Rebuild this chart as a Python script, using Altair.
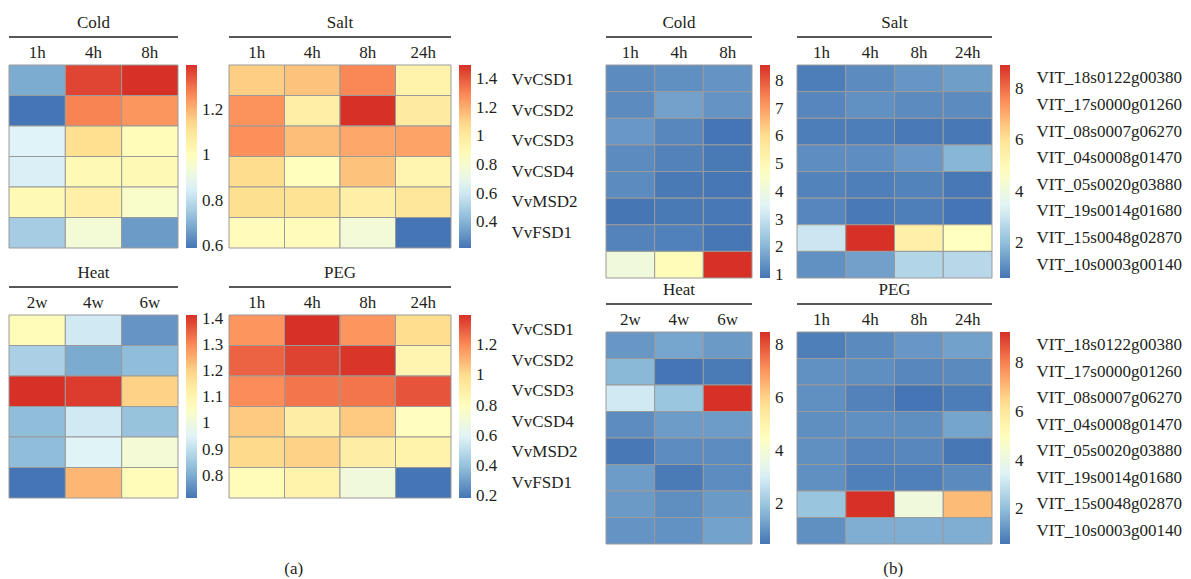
import altair as alt
import pandas as pd
import numpy as np

FONT = "Liberation Serif"
FS = 17
TXT = "#231f20"
PALETTE = ["#4575B4", "#91BFDB", "#E0F3F8", "#FFFFBF", "#FEE090", "#FC8D59", "#D73027"]

genes_a = ["VvCSD1", "VvCSD2", "VvCSD3", "VvCSD4", "VvMSD2", "VvFSD1"]
genes_b = ["VIT_18s0122g00380", "VIT_17s0000g01260", "VIT_08s0007g06270", "VIT_04s0008g01470",
           "VIT_05s0020g03880", "VIT_19s0014g01680", "VIT_15s0048g02870", "VIT_10s0003g00140"]
hours3 = ["1h", "4h", "8h"]
hours4 = ["1h", "4h", "8h", "24h"]
weeks = ["2w", "4w", "6w"]

# (a) relative expression, rows = genes_a
cold_a = [[0.69, 1.37, 1.40],
          [0.59, 1.28, 1.25],
          [0.86, 1.13, 1.01],
          [0.85, 1.02, 1.02],
          [1.02, 1.06, 0.97],
          [0.76, 0.94, 0.66]]
salt_a = [[1.12, 1.15, 1.30, 0.95],
          [1.27, 0.97, 1.50, 1.00],
          [1.28, 1.16, 1.22, 1.23],
          [1.08, 0.87, 1.15, 0.93],
          [1.07, 1.05, 0.97, 1.03],
          [0.88, 0.88, 0.77, 0.22]]
heat_a = [[1.08, 0.925, 0.765],
          [0.87, 0.80, 0.83],
          [1.415, 1.40, 1.20],
          [0.83, 0.925, 0.84],
          [0.83, 0.95, 1.02],
          [0.715, 1.24, 1.08]]
peg_a = [[1.18, 1.40, 1.18, 1.00],
         [1.29, 1.36, 1.39, 0.86],
         [1.20, 1.25, 1.25, 1.32],
         [1.05, 0.91, 1.05, 0.80],
         [1.01, 1.03, 0.91, 0.88],
         [0.82, 0.88, 0.70, 0.19]]

# (b) rows = genes_b
cold_b = [[1.27, 1.35, 1.43],
          [1.27, 1.66, 1.43],
          [1.50, 1.20, 0.89],
          [1.27, 1.12, 0.97],
          [1.27, 0.97, 0.93],
          [0.90, 0.97, 0.95],
          [1.14, 1.10, 0.92],
          [4.10, 4.90, 8.58]]
salt_b = [[0.80, 1.05, 1.25, 1.40],
          [0.95, 1.15, 1.05, 1.05],
          [0.80, 0.80, 0.72, 0.70],
          [1.10, 1.10, 1.30, 1.85],
          [0.90, 0.82, 0.90, 0.70],
          [0.95, 0.72, 0.82, 0.64],
          [3.05, 8.94, 5.45, 4.80],
          [1.15, 1.45, 2.60, 2.70]]
heat_b = [[1.10, 1.35, 1.15],
          [1.70, 0.49, 0.60],
          [2.90, 2.00, 8.49],
          [0.90, 1.20, 1.20],
          [0.55, 0.90, 0.90],
          [1.20, 0.60, 0.90],
          [1.15, 0.95, 1.15],
          [1.05, 1.00, 1.30]]
peg_b = [[0.78, 1.00, 1.25, 1.45],
         [1.12, 1.08, 0.95, 1.00],
         [1.10, 0.85, 0.59, 0.75],
         [1.08, 1.10, 1.08, 1.50],
         [1.10, 0.90, 0.95, 0.62],
         [1.10, 0.80, 0.80, 1.00],
         [2.20, 9.25, 4.20, 7.00],
         [1.10, 1.70, 1.70, 1.70]]

ticks_cold_a = [0.6, 0.8, 1, 1.2]
ticks_salt_a = [0.4, 0.6, 0.8, 1, 1.2, 1.4]
ticks_heat_a = [0.8, 0.9, 1, 1.1, 1.2, 1.3, 1.4]
ticks_peg_a = [0.2, 0.4, 0.6, 0.8, 1, 1.2]
ticks_cold_b = [1, 2, 3, 4, 5, 6, 7, 8]
ticks_b = [2, 4, 6, 8]


def heat(name, cols, genes, vals, W, H, ticks, thick, gene_offset=None):
    df = pd.DataFrame([
        {"gene": g, "time": c, "value": vals[i][j]}
        for i, g in enumerate(genes) for j, c in enumerate(cols)
    ])
    vmin, vmax = df["value"].min(), df["value"].max()
    dom = [float(v) for v in np.linspace(vmin, vmax, len(PALETTE))]
    if gene_offset is None:
        yaxis = None
    else:
        yaxis = alt.Axis(orient="right", offset=gene_offset, labelPadding=0, ticks=False,
                         domain=False, title=None, labelFont=FONT, labelFontSize=FS,
                         labelColor=TXT, labelLimit=400)
    rect = alt.Chart(df).mark_rect(stroke="#9a9a9a", strokeWidth=1).encode(
        x=alt.X("time:N", sort=cols,
                axis=alt.Axis(orient="top", labelAngle=0, ticks=False, domain=False,
                              labelPadding=4, title=None, labelFont=FONT,
                              labelFontSize=FS, labelColor=TXT)),
        y=alt.Y("gene:N", sort=genes, axis=yaxis),
        color=alt.Color("value:Q",
                        scale=alt.Scale(domain=dom, range=PALETTE, interpolate="rgb"),
                        legend=alt.Legend(orient="none", legendX=W + 8, legendY=0,
                                          direction="vertical", gradientLength=H,
                                          gradientThickness=thick, title=None,
                                          values=ticks, format=".2~f", labelOffset=5,
                                          labelFont=FONT, labelFontSize=FS,
                                          labelColor=TXT, labelOverlap=False,
                                          gradientStrokeWidth=0)),
    )
    line = alt.Chart(pd.DataFrame({"k": [0]})).mark_rule(color=TXT, strokeWidth=1.4).encode(
        x=alt.value(0), x2=alt.value(W), y=alt.value(-28))
    return alt.layer(rect, line).properties(
        width=W, height=H,
        title=alt.TitleParams(name, font=FONT, fontSize=FS, fontWeight="normal",
                              color=TXT, anchor="middle", frame="group", offset=4))


def panel_title(txt, dx, offset):
    return alt.TitleParams(txt, orient="bottom", font=FONT, fontSize=FS,
                           fontWeight="normal", color=TXT, anchor="start",
                           frame="bounds", dx=dx, offset=offset)


col1 = alt.vconcat(
    heat("Cold", hours3, genes_a, cold_a, 169, 183, ticks_cold_a, 11),
    heat("Heat", weeks, genes_a, heat_a, 169, 183, ticks_heat_a, 11),
    spacing=67, bounds="flush").resolve_scale(color="independent")
col2 = alt.vconcat(
    heat("Salt", hours4, genes_a, salt_a, 222, 183, ticks_salt_a, 12, gene_offset=60),
    heat("PEG", hours4, genes_a, peg_a, 222, 183, ticks_peg_a, 12, gene_offset=60),
    spacing=67, bounds="flush").resolve_scale(color="independent").properties(
    title=panel_title("(a)", 56, 56))
col3 = alt.vconcat(
    heat("Cold", hours3, genes_b, cold_b, 146, 213, ticks_cold_b, 10),
    heat("Heat", weeks, genes_b, heat_b, 146, 212, ticks_b, 10),
    spacing=54, bounds="flush").resolve_scale(color="independent")
col4 = alt.vconcat(
    heat("Salt", hours4, genes_b, salt_b, 195, 213, ticks_b, 10, gene_offset=44),
    heat("PEG", hours4, genes_b, peg_b, 195, 212, ticks_b, 10, gene_offset=44),
    spacing=54, bounds="flush").resolve_scale(color="independent").properties(
    title=panel_title("(b)", 87, 16))

pa = alt.hconcat(col1, col2, spacing=4).resolve_scale(color="independent")
pb = alt.hconcat(col3, col4, spacing=12).resolve_scale(color="independent")

chart = alt.hconcat(pa, pb, spacing=27).resolve_scale(color="independent").properties(
    padding={"left": 0, "top": 6, "right": 0, "bottom": 0}
).configure(background="white", font=FONT).configure_view(strokeWidth=0)

chart.save("out.html", embed_options={"renderer": "svg", "actions": False})
